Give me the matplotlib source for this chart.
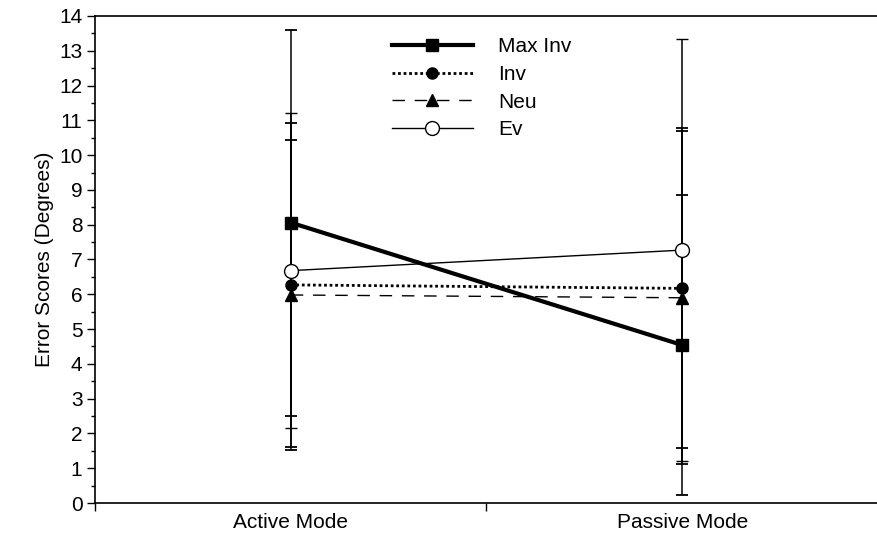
import matplotlib.pyplot as plt
from matplotlib.ticker import MultipleLocator, FixedLocator, NullFormatter

plt.rcParams['font.family'] = ['Liberation Sans', 'DejaVu Sans']

#### Data
modes = ["Active Mode", "Passive Mode"]
max_inv = [8.06, 4.54]
inv = [6.27, 6.17]
neu = [5.98, 5.90]
ev = [6.68, 7.27]
# error bar half-lengths (SD)
max_inv_sd = [5.55, 4.32]
inv_sd = [4.66, 4.60]
neu_sd = [4.45, 4.78]
ev_sd = [4.52, 6.07]

xi = [1, 2]

fig = plt.figure(figsize=(8.78, 5.4), dpi=100)
ax = fig.add_axes([0.1082, 0.0685, 0.8918, 0.9019])

err_kw = dict(ecolor="black", elinewidth=1.1, capsize=4.5, capthick=1.3)

ax.errorbar(xi, max_inv, yerr=max_inv_sd, color="black", linewidth=3.0,
            marker="s", markersize=9, label="Max Inv", zorder=4, **err_kw)
ax.errorbar(xi, inv, yerr=inv_sd, color="black", linewidth=2.0, linestyle=(0, (1, 1)),
            marker="o", markersize=8, label="Inv", zorder=3, **err_kw)
ax.errorbar(xi, neu, yerr=neu_sd, color="black", linewidth=1.0, linestyle=(0, (9, 7)),
            marker="^", markersize=8, label="Neu", zorder=3, **err_kw)
ax.errorbar(xi, ev, yerr=ev_sd, color="black", linewidth=1.0,
            marker="o", markersize=10, markerfacecolor="white", markeredgewidth=1.0,
            label="Ev", zorder=5, **err_kw)

ax.set_xlim(0.5, 2.5)
ax.set_ylim(0, 14)
ax.xaxis.set_major_locator(FixedLocator(xi))
ax.set_xticklabels(modes, fontsize=15)
ax.xaxis.set_minor_locator(FixedLocator([0.5, 1.5, 2.5]))
ax.xaxis.set_minor_formatter(NullFormatter())
ax.tick_params(axis="x", which="major", length=0, pad=7)
ax.tick_params(axis="x", which="minor", length=6, width=1, direction="out")

ax.yaxis.set_major_locator(MultipleLocator(1))
ax.yaxis.set_minor_locator(MultipleLocator(0.5))
ax.tick_params(axis="y", which="major", length=6, width=1, direction="out", labelsize=15, pad=3)
ax.tick_params(axis="y", which="minor", length=3, width=1, direction="out")
ax.set_ylabel("Error Scores (Degrees)", fontsize=15, labelpad=4)

ax.spines["right"].set_visible(False)
for s in ["left", "top", "bottom"]:
    ax.spines[s].set_linewidth(1.2)

handles, labels = ax.get_legend_handles_labels()
# legend without the error bar parts
handles = [h[0] for h in handles]
ax.legend(handles, labels, loc="upper left", bbox_to_anchor=(0.355, 0.995), frameon=False,
          fontsize=15, handlelength=3.9, handletextpad=1.2, labelspacing=0.42, numpoints=1)

fig.savefig("out.png", dpi=100)
